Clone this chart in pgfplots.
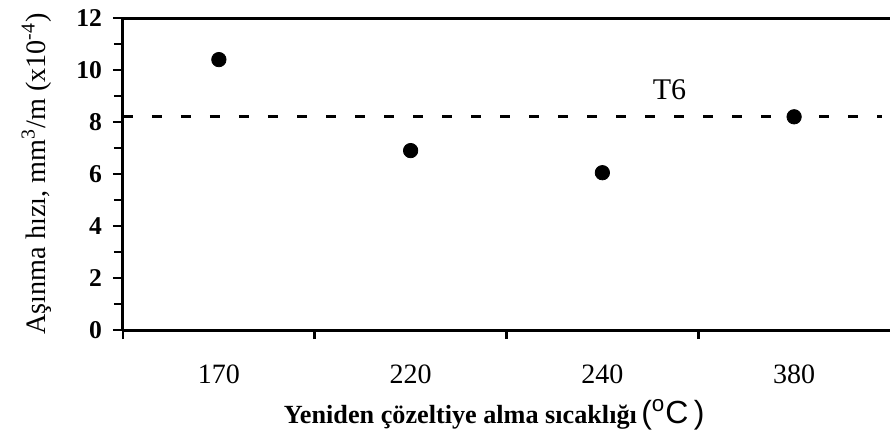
\documentclass[border=0pt]{standalone}
\usepackage{fontspec}
\setmainfont{Liberation Serif}
\newfontfamily\arialf{Liberation Sans}
\usepackage{pgfplots}
\pgfplotsset{compat=1.18}

\begin{document}
\begin{tikzpicture}
  \begin{axis}[
    at={(0,0)}, anchor=south west,
    scale only axis,
    width=383.5pt, height=156pt,
    xmin=0, xmax=4,
    ymin=0, ymax=12,
    axis lines*=left,
    axis line style={line width=1.5pt},
    tick align=outside,
    major tick length=5pt,
    minor tick length=4.5pt,
    every tick/.style={line width=1.4pt, black},
    xtick={0.5,1.5,2.5,3.5},
    xticklabels={170,220,240,380},
    major x tick style={draw=none},
    minor xtick={0,1,2,3},
    ytick={0,2,4,6,8,10,12},
    minor ytick={1,3,5,7,9,11},
    /pgf/number format/assume math mode=true,
    xticklabel style={font=\fontsize{14}{16}\selectfont, yshift=-9pt},
    yticklabel style={font=\fontsize{12.8}{14}\selectfont\bfseries, xshift=-2pt},
    xlabel={\textbf{Yeniden çözeltiye alma sıcaklığı}\,{\arialf\fontsize{16}{18}\selectfont(\textsuperscript{o}C\,)}},
    xlabel style={at={(axis description cs:0.484,-0.272)}, anchor=center, font=\fontsize{13.1}{15}\selectfont},
    ylabel={Aşınma hızı, mm\textsuperscript{3}/m (x10\textsuperscript{-4})},
    ylabel style={at={(axis description cs:-0.113,0.5)}, anchor=center, rotate=0, font=\fontsize{14.1}{16}\selectfont},
    clip=false,
  ]
    \addplot[black, line width=1.5pt, dash pattern=on 5pt off 9.5pt] coordinates {(0,8.23) (3.96,8.23)};
    \addplot[only marks, mark=*, mark size=3.6pt, black] coordinates {
      (0.5,10.4) (1.5,6.9) (2.5,6.05) (3.5,8.2)
    };
    \draw[line width=1.5pt] (rel axis cs:0,1) -- (rel axis cs:1,1);
    \node[font=\fontsize{15}{17}\selectfont] at (axis cs:2.85,9.25) {T6};
  \end{axis}
  \pgfresetboundingbox
  \path (-61.5pt,-52pt) rectangle (383.5pt,165pt);
\end{tikzpicture}
\end{document}
